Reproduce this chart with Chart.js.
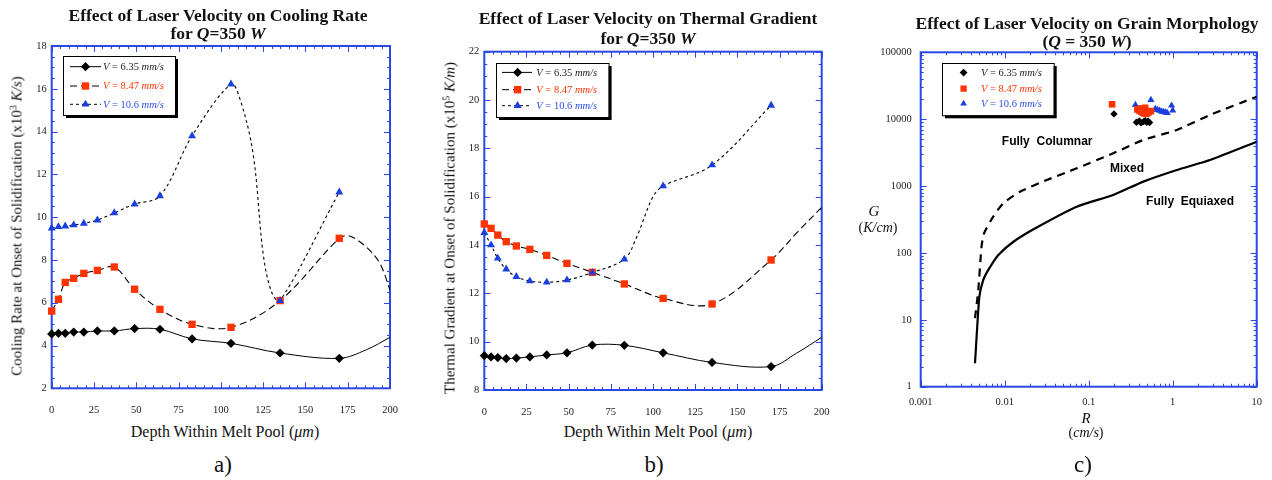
<!DOCTYPE html>
<html>
<head>
<meta charset="utf-8">
<title>Effect of Laser Velocity</title>
<script src="https://cdn.jsdelivr.net/npm/chart.js@4.4.1/dist/chart.umd.min.js"></script>
<style>
  body { margin: 0; background: #fff; }
  #page { position: relative; width: 1272px; height: 480px; overflow: hidden;
          font-family: "Liberation Serif", "Times New Roman", serif; color: #111; }
  .panel { position: absolute; top: 40px; }
  .panel canvas { display: block; }
  .txt { position: absolute; white-space: nowrap; transform: translate(-50%, -50%); }
  .title { font-weight: bold; font-size: 17.5px; text-align: center; }
  .axis { font-size: 15px; }
  .xt { font-size: 16px; }
  .vert { transform: translate(-50%, -50%) rotate(-90deg); }
  .cap { font-size: 23px; }
  sup { font-size: 10px; vertical-align: 5px; line-height: 0; }
</style>
</head>
<body>
<div id="page">
  <div class="panel" style="left:0px"><canvas id="chartA" width="400" height="380"></canvas></div>
  <div class="panel" style="left:430px"><canvas id="chartB" width="400" height="380"></canvas></div>
  <div class="panel" style="left:860px"><canvas id="chartC" width="412" height="380"></canvas></div>

  <div class="txt title" style="left:218px;top:24px;line-height:18px">Effect of Laser Velocity on Cooling Rate<br>for <i>Q</i>=350 <i>W</i></div>
  <div class="txt title" style="left:648px;top:28px;line-height:20px">Effect of Laser Velocity on Thermal Gradient<br>for <i>Q</i>=350 <i>W</i></div>
  <div class="txt title" style="left:1087px;top:32px;line-height:17.5px">Effect of Laser Velocity on Grain Morphology<br>(<i>Q</i> = 350 <i>W</i>)</div>

  <div class="txt axis vert" style="left:17px;top:226px">Cooling Rate at Onset of Solidification (x10<sup>3</sup> <i>K/s</i>)</div>
  <div class="txt axis vert" style="left:450px;top:228px">Thermal Gradient at Onset of Solidification (x10<sup>5</sup> <i>K/m</i>)</div>
  <div class="txt xt" style="left:225px;top:432px">Depth Within Melt Pool (<i>μm</i>)</div>
  <div class="txt xt" style="left:658px;top:432px">Depth Within Melt Pool (<i>μm</i>)</div>

  <div class="txt axis" style="left:874px;top:211px;font-size:15px"><i>G</i></div>
  <div class="txt axis" style="left:878px;top:228px;font-size:14px">(<i>K/cm</i>)</div>
  <div class="txt axis" style="left:1086px;top:418px;font-size:15px"><i>R</i></div>
  <div class="txt axis" style="left:1086px;top:433px;font-size:14px">(<i>cm/s</i>)</div>

  <div class="txt cap" style="left:223px;top:465px">a)</div>
  <div class="txt cap" style="left:654px;top:465px">b)</div>
  <div class="txt cap" style="left:1083px;top:465px">c)</div>
</div>

<script>
// depth of the calculated points (um), same for every speed
const depth = [0, 4, 8, 13, 19, 27, 37, 49, 64, 83, 106, 135, 170];
const speeds = ['6.35', '8.47', '10.6'];

// a) cooling rate at onset of solidification (x10^3 K/s)
const coolV635 = [4.54, 4.57, 4.57, 4.63, 4.63, 4.68, 4.68, 4.79, 4.76, 4.31, 4.10, 3.65, 3.40];
const coolV847 = [5.61, 6.16, 6.95, 7.14, 7.37, 7.51, 7.67, 6.63, 5.69, 4.99, 4.85, 6.10, 9.01];
const coolV106 = [9.48, 9.55, 9.58, 9.63, 9.71, 9.86, 10.2, 10.61, 10.99, 13.80, 16.22, 6.10, 11.17];
// extra points
const coolFitV635X = [186, 200];
const coolFitV635Y = [3.8, 4.38];
const coolFitV847X = [176, 186, 194, 200];
const coolFitV847Y = [9.12, 8.6, 7.84, 6.6];
const coolFitV106X = [111, 119, 125, 130];
const coolFitV106Y = [15.6, 13.0, 8.3, 6.5];

// b) thermal gradient at onset of solidification (x10^5 K/m)
const gradV635 = [9.42, 9.37, 9.34, 9.30, 9.32, 9.37, 9.45, 9.54, 9.86, 9.85, 9.54, 9.14, 8.97];
const gradV847 = [14.87, 14.69, 14.41, 14.14, 13.96, 13.82, 13.57, 13.24, 12.87, 12.39, 11.79, 11.56, 13.38];
const gradV106 = [14.51, 14.0, 13.45, 13.0, 12.69, 12.51, 12.46, 12.55, 12.86, 13.41, 16.44, 17.31, 19.78];
const gradFitV635X = [185, 200];
const gradFitV635Y = [9.52, 10.18];
const gradFitV847X = [185, 200];
const gradFitV847Y = [14.49, 15.56];
const gradFitV106X = [90, 100];
const gradFitV106Y = [14.28, 16.0];

// c) solidification map, R (cm/s) vs G (K/cm)
const morphV635R = [0.20, 0.37, 0.40, 0.42, 0.45, 0.47, 0.49, 0.51, 0.53];
const morphV635G = [12000, 9000, 9400, 8800, 9200, 9500, 9000, 9300, 8900];
const morphV847R = [0.19, 0.38, 0.40, 0.42, 0.44, 0.46, 0.48, 0.50, 0.52, 0.55, 0.42, 0.47];
const morphV847G = [16700, 14000, 13500, 13000, 12500, 12200, 12000, 12300, 12800, 13200, 14500, 14800];
const morphV106R = [0.36, 0.55, 0.62, 0.66, 0.70, 0.74, 0.78, 0.82, 0.86, 0.97, 1.0];
const morphV106G = [16300, 19400, 14300, 13800, 13400, 13000, 12800, 12600, 12400, 16000, 13500];
// columnar / mixed boundary (dashed) and mixed / equiaxed boundary (solid)
const mixedR = [0.00443, 0.00485, 0.0053, 0.00568, 0.0073, 0.0096, 0.0152, 0.0316, 0.072, 0.196, 0.447, 1.12, 2.78, 10];
const mixedG = [10.6, 28, 124, 197, 349, 553, 824, 1230, 1840, 3090, 4890, 6900, 11560, 21700];
const equiaxR = [0.00443, 0.00499, 0.00556, 0.00638, 0.0084, 0.0127, 0.024, 0.072, 0.196, 0.447, 1.12, 2.78, 10];
const equiaxG = [2.24, 22, 39.5, 55.7, 93, 147, 240, 492, 736, 1165, 1740, 2455, 4610];
const regionLabels = ['Fully  Columnar', 'Mixed', 'Fully  Equiaxed'];
const regionR = [0.032, 0.286, 1.61];
const regionG = [4560, 1820, 578];

const logTickLabels = {'-3': '0.001', '-2': '0.01', '-1': '0.1', '0': '1', '1': '10',
                       '2': '100', '3': '1000', '4': '10000', '5': '100000'};

const SERIF = '"Liberation Serif", "Times New Roman", serif';
const AXIS_BLUE = '#2a48e4';
const RED = '#ff3300';
const BLUE = '#1a3fe0';

function pts(xs, ys) {
  return xs.map((x, i) => ({x: x, y: ys[i]}));
}
function curve(xs, ys, fx, fy) {
  return pts(xs.concat(fx), ys.concat(fy)).sort((p, q) => p.x - q.x);
}

// marker style for each speed
const marks = [
  {style: 'rectRot', r: 4.6, color: '#000', text: '#222', dash: []},
  {style: 'rect', r: 5.2, color: RED, text: RED, dash: [7, 4]},
  {style: 'triangle', r: 4.6, color: BLUE, text: '#2a4ee8', dash: [3, 3]}
];

function linTicks(min, max, step, major) {
  const out = [];
  const n = Math.round((max - min) / step);
  for (let i = 0; i <= n; i++) {
    const v = min + i * step;
    out.push({v: v, major: Math.abs(v / major - Math.round(v / major)) < 1e-6});
  }
  return out;
}
function logTicks(min, max) {
  const out = [];
  for (let e = Math.round(Math.log10(min)); e < Math.round(Math.log10(max)); e++) {
    for (let k = 1; k < 10; k++) out.push({v: k * Math.pow(10, e), major: k === 1});
  }
  out.push({v: max, major: true});
  return out;
}

// blue frame with inward ticks on all four sides
function framePlugin(xTicks, yTicks) {
  return {
    id: 'frame',
    beforeDatasetsDraw(chart) {
      const ctx = chart.ctx, a = chart.chartArea;
      const sx = chart.scales.x, sy = chart.scales.y;
      ctx.save();
      ctx.strokeStyle = AXIS_BLUE;
      ctx.lineWidth = 1;
      ctx.beginPath();
      xTicks.forEach(t => {
        const p = Math.round(sx.getPixelForValue(t.v)) + 0.5;
        const len = t.major ? 6 : 3;
        ctx.moveTo(p, a.bottom); ctx.lineTo(p, a.bottom - len);
        ctx.moveTo(p, a.top); ctx.lineTo(p, a.top + len);
      });
      yTicks.forEach(t => {
        const p = Math.round(sy.getPixelForValue(t.v)) + 0.5;
        const len = t.major ? 6 : 3;
        ctx.moveTo(a.left, p); ctx.lineTo(a.left + len, p);
        ctx.moveTo(a.right, p); ctx.lineTo(a.right - len, p);
      });
      ctx.stroke();
      ctx.lineWidth = 2;
      ctx.strokeRect(a.left, a.top, a.right - a.left, a.bottom - a.top);
      ctx.restore();
    }
  };
}

// boxed legend with drop shadow
function legendPlugin(L) {
  return {
    id: 'legendBox',
    afterDraw(chart) {
      const ctx = chart.ctx, a = chart.chartArea;
      const x0 = Math.round(a.left + L.dx), y0 = Math.round(a.top + L.dy);
      ctx.save();
      ctx.fillStyle = '#000';
      ctx.fillRect(x0 + 3, y0 + 3, L.w, L.h);
      ctx.fillStyle = '#fff';
      ctx.fillRect(x0, y0, L.w, L.h);
      ctx.strokeStyle = '#000';
      ctx.lineWidth = 1;
      ctx.strokeRect(x0 + 0.5, y0 + 0.5, L.w, L.h);
      speeds.forEach((sp, i) => {
        const m = marks[i];
        const ry = y0 + L.rows[i];
        if (L.line) {
          ctx.strokeStyle = '#000';
          ctx.setLineDash(m.dash);
          ctx.beginPath();
          ctx.moveTo(x0 + L.line[0], ry);
          ctx.lineTo(x0 + L.line[1], ry);
          ctx.stroke();
          ctx.setLineDash([]);
        }
        ctx.fillStyle = m.color;
        Chart.helpers.drawPoint(ctx, {pointStyle: m.style, radius: m.r * L.scale, borderWidth: 0, rotation: 0},
                                x0 + L.marker, ry);
        const parts = [['V', true], [' = ' + sp + ' ', false], ['mm/s', true]];
        let tx = x0 + L.text;
        ctx.fillStyle = m.text;
        ctx.textBaseline = 'middle';
        parts.forEach(p => {
          ctx.font = (p[1] ? 'italic ' : '') + '10.5px ' + SERIF;
          ctx.fillText(p[0], tx, ry + 0.5);
          tx += ctx.measureText(p[0]).width;
        });
      });
      ctx.restore();
    }
  };
}

const regionPlugin = {
  id: 'regions',
  afterDatasetsDraw(chart) {
    const ctx = chart.ctx, sx = chart.scales.x, sy = chart.scales.y;
    ctx.save();
    ctx.font = 'bold 12px "Liberation Sans", Arial, sans-serif';
    ctx.fillStyle = '#000';
    ctx.textAlign = 'center';
    ctx.textBaseline = 'middle';
    regionLabels.forEach((t, i) => {
      ctx.fillText(t, sx.getPixelForValue(regionR[i]), sy.getPixelForValue(regionG[i]));
    });
    ctx.restore();
  }
};

function markerSet(data, i, scale) {
  const m = marks[i];
  return {data: data, showLine: false, pointStyle: m.style, pointRadius: m.r * scale,
          pointBackgroundColor: m.color, pointBorderWidth: 0, clip: false};
}
function lineSet(data, i, width, tension) {
  return {data: data, showLine: true, pointRadius: 0, borderColor: '#000', borderWidth: width,
          borderDash: marks[i].dash, tension: tension, fill: false};
}

function axis(type, min, max, extra, size, padding, labelFn) {
  const s = {
    type: type, min: min, max: max,
    grid: {display: false, drawTicks: false},
    border: {display: false},
    ticks: {font: {family: SERIF, size: 10.5}, color: '#222', padding: padding,
            maxRotation: 0, autoSkip: false},
    afterFit: sc => {
      if (sc.isHorizontal()) sc.height = size; else sc.width = size;
      // keep the plot area exactly where the layout padding puts it
      sc.paddingTop = sc.paddingBottom = sc.paddingLeft = sc.paddingRight = 0;
    }
  };
  if (type === 'linear') s.ticks.stepSize = extra;
  if (labelFn) s.ticks.callback = labelFn;
  return s;
}

function logLabel(v) {
  const e = Math.log10(v);
  if (Math.abs(e - Math.round(e)) > 1e-6) return '';
  return logTickLabels[String(Math.round(e))];
}

function makeChart(id, datasets, scales, padding, plugins) {
  return new Chart(document.getElementById(id), {
    type: 'scatter',
    data: {datasets: datasets},
    options: {
      responsive: false,
      animation: false,
      events: [],
      layout: {padding: padding},
      plugins: {legend: {display: false}, tooltip: {enabled: false}},
      scales: scales
    },
    plugins: plugins
  });
}

// a) cooling rate
makeChart('chartA', [
  markerSet(pts(depth, coolV106), 2, 1),
  markerSet(pts(depth, coolV847), 1, 1),
  markerSet(pts(depth, coolV635), 0, 1),
  lineSet(curve(depth, coolV106, coolFitV106X, coolFitV106Y), 2, 1.1, 0.35),
  lineSet(curve(depth, coolV847, coolFitV847X, coolFitV847Y), 1, 1.1, 0.35),
  lineSet(curve(depth, coolV635, coolFitV635X, coolFitV635Y), 0, 1, 0.35)
], {
  x: axis('linear', 0, 200, 25, 31.7, 16),
  y: axis('linear', 2, 18, 2, 51.7, 5)
}, {left: 0, top: 6, right: 10, bottom: 0}, [
  framePlugin(linTicks(0, 200, 5, 25), linTicks(2, 18, 0.5, 2)),
  legendPlugin({dx: 11, dy: 10, w: 112, h: 59, rows: [10.7, 30, 48.3], line: [7, 38], marker: 22.5, text: 40, scale: 1})
]);

// b) thermal gradient
makeChart('chartB', [
  markerSet(pts(depth, gradV106), 2, 1),
  markerSet(pts(depth, gradV847), 1, 1),
  markerSet(pts(depth, gradV635), 0, 1),
  lineSet(curve(depth, gradV106, gradFitV106X, gradFitV106Y), 2, 1.1, 0.35),
  lineSet(curve(depth, gradV847, gradFitV847X, gradFitV847Y), 1, 1.1, 0.35),
  lineSet(curve(depth, gradV635, gradFitV635X, gradFitV635Y), 0, 1, 0.35)
], {
  x: axis('linear', 0, 200, 25, 30, 16),
  y: axis('linear', 8, 22, 2, 54.3, 5)
}, {left: 0, top: 11.7, right: 8.3, bottom: 0}, [
  framePlugin(linTicks(0, 200, 5, 25), linTicks(8, 22, 0.5, 2)),
  legendPlugin({dx: 11.4, dy: 11.6, w: 112.6, h: 54, rows: [9.4, 26.7, 42.7], line: [6, 36], marker: 21.6, text: 40.3, scale: 1})
]);

// c) grain morphology map
makeChart('chartC', [
  markerSet(pts(morphV635R, morphV635G), 0, 0.8),
  markerSet(pts(morphV847R, morphV847G), 1, 0.9),
  markerSet(pts(morphV106R, morphV106G), 2, 0.9),
  {data: pts(mixedR, mixedG), showLine: true, pointRadius: 0, borderColor: '#000', borderWidth: 2.2,
   borderDash: [8, 6], tension: 0.2},
  {data: pts(equiaxR, equiaxG), showLine: true, pointRadius: 0, borderColor: '#000', borderWidth: 2.2,
   tension: 0.2}
], {
  x: axis('logarithmic', 0.001, 10, null, 33.3, 9, logLabel),
  y: axis('logarithmic', 1, 100000, null, 60.7, 9, logLabel)
}, {left: 0, top: 12.3, right: 15.3, bottom: 0}, [
  regionPlugin,
  framePlugin(logTicks(0.001, 10), logTicks(1, 100000)),
  legendPlugin({dx: 21, dy: 10.4, w: 111.7, h: 52.3, rows: [9.6, 25.6, 40.6], line: null, marker: 21.6, text: 39, scale: 0.85})
]);
</script>
</body>
</html>
